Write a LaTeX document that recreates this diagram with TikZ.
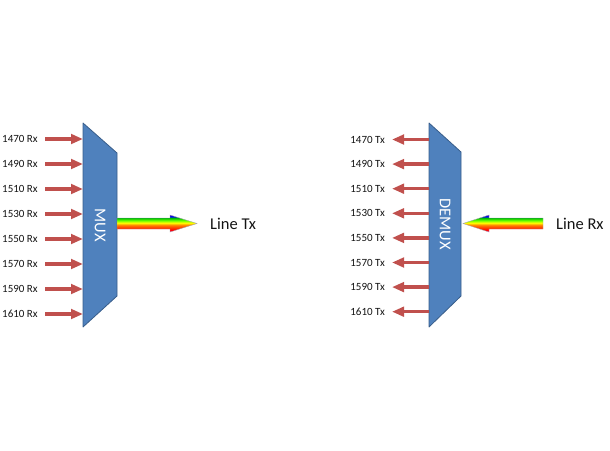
\documentclass[tikz,border=0pt]{standalone}
\usepackage{fontspec}
\setmainfont{Carlito}
\usetikzlibrary{arrows.meta}
\definecolor{boxblue}{RGB}{79,129,189}
\definecolor{boxedge}{RGB}{56,93,138}
\definecolor{arrowred}{RGB}{192,80,77}
\definecolor{labelgray}{RGB}{20,20,20}

% rainbow fill for the line arrows (bottom to top)
\pgfdeclareverticalshading{rainbowfill}{100bp}{%
  color(0bp)=(magenta); color(25bp)=(magenta!80!red);
  color(31bp)=(red); color(38bp)=(red!50!orange);
  color(45bp)=(orange); color(52bp)=(yellow);
  color(59bp)=(yellow!40!green); color(66bp)=(green!75!black);
  color(71bp)=(blue); color(75bp)=(blue!70!violet);
  color(100bp)=(blue!70!violet)}

\tikzset{
  muxbox/.style={fill=boxblue, draw=boxedge, line width=0.8pt, line join=round},
  muxtext/.style={text=white, font=\fontsize{16.5}{18}\selectfont, inner sep=0pt},
  chlabel/.style={text=labelgray, font=\fontsize{11}{12}\selectfont, inner sep=0pt},
  linelabel/.style={text=labelgray, font=\fontsize{16.5}{18}\selectfont, inner sep=0pt},
  redarrow/.style={draw=arrowred, line width=3.5pt, -{Triangle[length=12pt,width=9.5pt]}},
  rainbow/.style={shading=rainbowfill, draw=gray!70, line width=0.4pt, line join=miter}
}

\begin{document}
\begin{tikzpicture}[x=1pt, y=-1pt]
\useasboundingbox (0,0) rectangle (610,450);

% ===== MUX side =====
\draw[muxbox] (83,123) -- (117,153) -- (117,296) -- (83,327) -- cycle;
\node[muxtext, rotate=-90] (mux) at (100,225) {MUX};

\foreach \w [count=\i from 0] in {1470,1490,...,1610} {
  \node[chlabel, anchor=west] (rx\w) at (2,139+25*\i) {\w{} Rx};
  \coordinate (rxs\w) at (45,139+25*\i);
  \coordinate (rxe\w) at (83,139+25*\i);
  \draw[redarrow] (rxs\w) -- (rxe\w);
}

\node[linelabel, anchor=west] (linetx) at (210,223.5) {Line Tx};
\shade[rainbow] (117,218) -- (170,218) -- (170,215) -- (197,223.5)
  -- (170,232) -- (170,229) -- (117,229) -- cycle;

% ===== DEMUX side =====
\draw[muxbox] (429,123) -- (461,152) -- (461,296) -- (429,327) -- cycle;
\node[muxtext, rotate=-90] (demux) at (445,224) {DEMUX};

\foreach \w [count=\i from 0] in {1470,1490,...,1610} {
  \node[chlabel, anchor=east] (tx\w) at (385,139.5+24.6*\i) {\w{} Tx};
  \coordinate (txs\w) at (429,139.5+24.6*\i);
  \coordinate (txe\w) at (392,139.5+24.6*\i);
  \draw[redarrow] (txs\w) -- (txe\w);
}

\node[linelabel, anchor=west] (linerx) at (556,223.5) {Line Rx};
\shade[rainbow] (543,218) -- (489,218) -- (489,215) -- (463,223.5)
  -- (489,232) -- (489,229) -- (543,229) -- cycle;

\end{tikzpicture}
\end{document}
